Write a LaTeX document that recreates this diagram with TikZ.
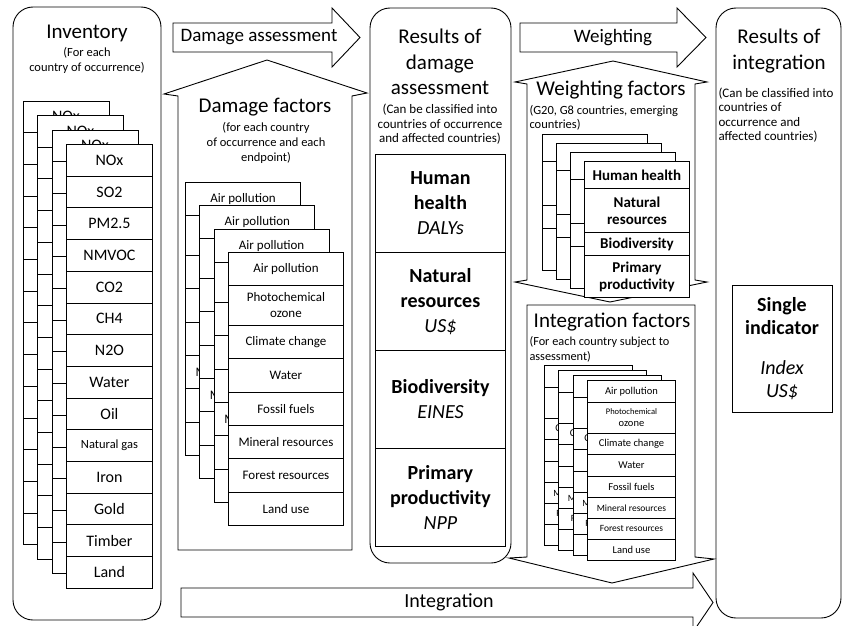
\documentclass[tikz,border=0pt]{standalone}
\usepackage{fontspec}
\setmainfont{Carlito}
\newcommand{\fsz}[2]{\fontsize{#1}{#2}\selectfont}

\tikzset{
	panel/.style={draw, line width=0.9pt, rounded corners=20pt},
	blockarrow/.style={draw, line width=0.9pt, fill=white, line join=miter},
	cell/.style={draw, fill=white, line width=0.9pt, inner sep=0pt, align=center, anchor=north west},
	heading/.style={align=center, font=\fsz{21}{25.5}},
	remark/.style={align=center, font=\fsz{12.5}{15}},
}

\begin{document}
\begin{tikzpicture}[x=1pt, y=-1pt]
	\useasboundingbox (0,0) rectangle (843,626);
	
	% the three rounded columns
	\draw[panel] (13,7) rectangle (161,620);
	\draw[panel] (370,8) rectangle (511,563);
	\draw[panel] (716,8) rectangle (841,618);
	
	% flow arrows
	\draw[blockarrow] (173,23) -- (332,23) -- (332,8) -- (360,37.5) -- (332,67) -- (332,52) -- (173,52) -- cycle;
	\draw[blockarrow] (520,23) -- (677,23) -- (677,8) -- (706,37.5) -- (677,67) -- (677,52) -- (520,52) -- cycle;
	\draw[blockarrow] (181,588) -- (693,588) -- (693,573) -- (713,602.5) -- (693,632) -- (693,617) -- (181,617) -- cycle;
	\node (dmgarrow) at (259,37.5) {\fsz{19}{22}Damage assessment};
	\node (wtarrow) at (613,37.5) {\fsz{19}{22}Weighting};
	\node (intarrow) at (449,602.5) {\fsz{20}{22}Integration};
	
	% factor blocks
	\draw[blockarrow] (178,550) -- (178,96) -- (164,94) -- (267,60) -- (367,93) -- (352,96) -- (352,550) -- cycle;
	\draw[blockarrow] (527,84) -- (515,82) -- (613,61) -- (707,82) -- (695,84) -- (695,280) -- (707,282) -- (610,302) -- (515,282) -- (527,280) -- cycle;
	\draw[blockarrow] (527,305) -- (695,305) -- (695,557) -- (714,559) -- (612,583) -- (509,558) -- (527,557) -- cycle;
	
	% titles
	\node[heading] (inv) at (87,33) {Inventory};
	\node[remark] (invnote) at (87,60.5) {(For each\\country of occurrence)};
	\node[heading] (dmgf) at (265,107) {Damage factors};
	\node[remark] (dmgfnote) at (266,143) {(for each country\\of occurrence and each\\endpoint)};
	\node[heading] (res) at (440,62) {Results of\\damage\\assessment};
	\node[remark, font=\fsz{13}{14.5}] (resnote) at (440,124.5) {(Can be classified into\\countries of occurrence\\and affected countries)};
	\node[heading] (wtf) at (611,90) {Weighting factors};
	\node[remark, align=left, anchor=west, font=\fsz{12.5}{14}] (wtfnote) at (526,118) {(G20, G8 countries, emerging\\countries)};
	\node[heading] (intf) at (612,322) {Integration factors};
	\node[remark, align=left, anchor=west, font=\fsz{12.3}{15}] (intfnote) at (526,349.5) {(For each country subject to\\assessment)};
	\node[heading, font=\fsz{21}{26}] (fin) at (779,51) {Results of\\integration};
	\node[remark, align=left, anchor=west, font=\fsz{13}{14.3}] (finnote) at (715,115) {(Can be classified into\\countries of\\occurrence and\\affected countries)};
	
	% inventory sheets
	\foreach \k in {3,2,1,0}{
		\foreach \lab [count=\i from 0] in {NOx,SO2,PM2.5,NMVOC,CO2,CH4,N2O,Water,Oil,{\fsz{12.5}{14}Natural gas},Iron,Gold,Timber,Land}
			\node[cell, font=\fsz{16}{18}, minimum width=86pt, minimum height=31.7pt] (inv\k-\i) at (66-14.5*\k, 144-14.5*\k+31.7*\i) {\lab};
	}
	
	% damage factor sheets
	\foreach \k in {3,2,1,0}{
		\foreach \lab/\dy/\h [count=\i] in {Air pollution/0/33, Photochemical\\ozone/33/40, Climate change/73/33, Water/106/34, Fossil fuels/140/33, Mineral resources/173/33, Forest resources/206/34, Land use/240/33}
			\node[cell, font=\fsz{13}{16}, minimum width=115pt, minimum height=\h pt] (dmg\k-\i) at (228-14.3*\k, 252-23.3*\k+\dy) {\lab};
	}
	
	% weighting factor sheets, only the front one is labelled
	\foreach \k in {3,2,1,0}{
		\foreach \lab/\dy/\h [count=\i] in {Human health/0/27, Natural\\resources/27/44, Biodiversity/71/23, Primary\\productivity/94/42}
			\node[cell, font=\fsz{15}{17}\bfseries, minimum width=105pt, minimum height=\h pt] (wt\k-\i) at (584-14*\k, 161-9*\k+\dy) {\ifnum\k=0 \lab\fi};
	}
	
	% integration factor sheets
	\foreach \k in {3,2,1,0}{
		\foreach \lab/\dy/\h [count=\i] in {Air pollution/0/22, {\fsz{8.5}{11}Photochemical\\ozone}/22/31, Climate change/53/21, Water/74/22, Fossil fuels/96/21, {\fsz{9.5}{11}Mineral resources}/117/21, {\fsz{9.5}{11}Forest resources}/138/21, Land use/159/21}
			\node[cell, font=\fsz{10.5}{12}, minimum width=88pt, minimum height=\h pt] (int\k-\i) at (587-14.5*\k, 380-5*\k+\dy) {\lab};
	}
	
	% damage categories
	\foreach \top/\body [count=\i] in {Human\\health/DALYs, Natural\\resources/US\$, Biodiversity/EINES, Primary\\productivity/NPP}
		\node[cell, font=\fsz{20}{25}\bfseries, minimum width=130pt, minimum height=98pt] (cat\i) at (375,154+98*\i-98) {\top\\{\mdseries\itshape \body}};
	
	% single score
	\node[draw, line width=0.9pt, minimum width=100pt, minimum height=127pt, align=center, font=\fsz{20}{23}] (single) at (782,348.5)
		{{\bfseries Single}\\{\bfseries indicator}\\[17pt]{\itshape Index}\\{\itshape US\$}};
\end{tikzpicture}
\end{document}
